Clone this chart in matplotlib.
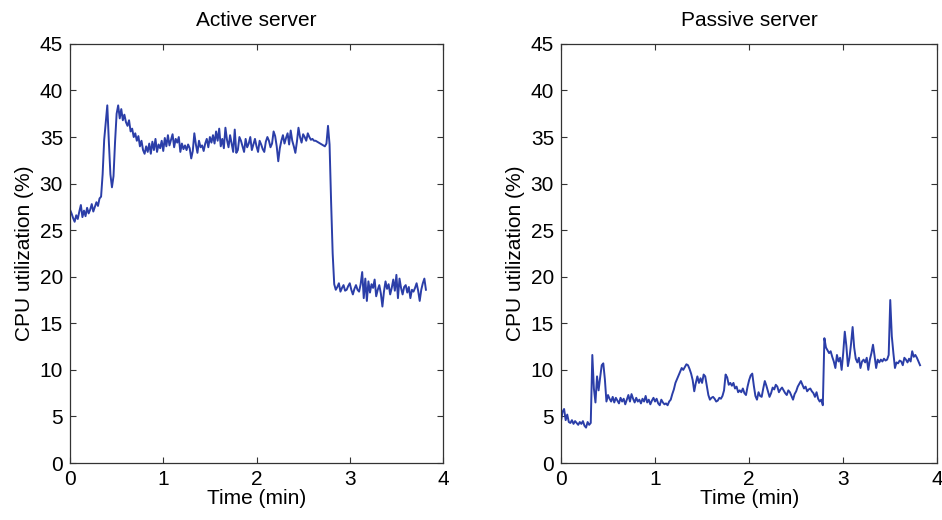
import numpy as np
import matplotlib.pyplot as plt

plt.rcParams['font.family'] = ['Liberation Sans', 'DejaVu Sans']

# CPU load samples, one per second
active_cpu = [
    27.2, 26.8, 26.3, 25.9, 26.6, 26.2, 27.0, 27.7, 26.4, 27.1,
    26.5, 27.4, 26.8, 27.2, 27.8, 27.0, 27.5, 28.0, 27.6, 28.4,
    28.6, 31.0, 34.7, 36.5, 38.4, 34.5, 31.0, 29.6, 30.8, 34.5,
    37.5, 38.4, 37.0, 38.0, 36.8, 37.4, 36.6, 36.2, 36.8, 35.6,
    35.9, 35.0, 35.4, 34.6, 35.1, 34.0, 34.6, 33.6, 33.2, 34.0,
    33.4, 34.3, 33.2, 34.5, 33.6, 34.8, 33.4, 34.2, 33.8, 34.6,
    33.5, 34.9, 34.0, 35.2, 34.1, 34.7, 35.3, 33.9, 34.8, 34.4,
    35.0, 33.4, 34.3, 33.7, 34.1, 33.6, 34.2, 33.8, 32.7, 33.5,
    35.4, 34.2, 33.3, 34.6, 33.9, 34.1, 33.5, 34.3, 34.8, 33.9,
    35.0, 34.4, 35.2, 34.3, 35.6, 34.6, 35.9, 34.0, 34.8, 33.8,
    36.0, 34.7, 33.9, 35.2, 34.3, 33.4, 35.8, 33.3, 33.6, 35.0,
    34.6, 34.0, 33.4, 34.8, 33.9, 34.3, 35.0, 33.6, 34.2, 34.8,
    34.0, 33.4, 34.6, 34.2, 33.7, 33.4, 34.5, 35.0, 34.6, 33.9,
    34.3, 35.6, 35.1, 34.0, 32.4, 33.8, 34.6, 35.2, 34.3, 34.9,
    35.4, 34.2, 35.7, 34.6, 34.0, 33.3, 34.5, 36.0, 35.0, 34.4,
    35.3, 35.0, 34.6, 35.4, 35.0, 34.7, 34.8, 34.6, 34.6, 34.5,
    34.4, 34.3, 34.2, 34.1, 34.0, 34.3, 36.2, 34.2, 28.0, 22.5,
    19.2, 18.6, 18.9, 19.3, 18.4, 18.8, 19.1, 18.5, 18.6, 19.0,
    19.3, 18.6, 18.1, 18.7, 19.1, 18.6, 18.4, 19.2, 20.5, 17.7,
    19.8, 17.4, 19.5, 18.3, 19.2, 18.8, 19.7, 17.9, 18.6, 19.1,
    18.2, 16.8, 18.4, 19.5, 18.7, 19.2, 18.1, 18.8, 19.7, 18.5,
    20.2, 17.7, 19.8, 18.8, 18.1, 18.9, 19.1, 18.3, 18.9, 17.7,
    18.6, 18.4, 18.8, 19.3, 18.5, 17.4, 18.6, 19.3, 19.8, 18.6,
]

passive_cpu = [
    4.5, 5.5, 5.8, 4.6, 5.2, 4.4, 4.3, 4.6, 4.2, 4.5,
    4.3, 4.1, 4.4, 4.2, 4.5, 4.0, 3.8, 4.4, 4.1, 4.3,
    11.6, 8.0, 6.5, 9.3, 7.8, 9.2, 10.5, 10.7, 9.0, 6.6,
    7.3, 6.9, 6.6, 7.1, 6.5, 7.0, 6.7, 6.4, 7.0, 6.6,
    6.9, 6.3, 6.8, 7.3, 6.6, 7.4, 6.9, 6.5, 7.0, 6.6,
    6.8, 6.4, 6.9, 6.6, 7.2, 6.5, 6.8, 6.3, 6.7, 7.0,
    6.6, 6.9, 6.4, 6.2, 6.8, 6.5, 6.3, 6.4, 6.2, 6.6,
    6.8, 7.4, 7.9, 8.6, 9.0, 9.4, 9.8, 10.2, 10.0, 10.3,
    10.6, 10.5, 10.1, 9.6, 8.9, 7.7, 8.6, 9.3, 8.6, 9.1,
    8.6, 9.5, 9.3, 8.3, 7.3, 6.8, 7.0, 7.1, 6.9, 6.6,
    6.7, 7.0, 6.9, 7.2, 7.8, 9.5, 9.2, 8.4, 8.6, 8.3,
    8.6, 8.0, 8.2, 7.6, 7.8, 7.6, 8.0, 7.5, 7.3, 8.2,
    8.9, 9.4, 9.6, 8.3, 7.2, 6.8, 7.6, 7.2, 7.1, 8.0,
    8.8, 8.3, 7.7, 7.1, 7.5, 8.1, 7.9, 8.4, 8.2, 7.6,
    7.9, 8.1, 7.8, 7.5, 7.3, 7.8, 7.6, 7.2, 6.8, 7.4,
    7.7, 8.2, 8.5, 8.8, 8.4, 8.0, 8.2, 7.7, 7.9, 8.0,
    7.7, 7.5, 7.1, 7.6, 6.9, 6.6, 6.8, 6.2, 13.4, 12.4,
    12.1, 11.8, 12.0, 11.4, 10.9, 10.2, 11.6, 10.9, 11.3, 10.0,
    11.8, 14.1, 12.6, 10.4, 11.3, 12.8, 14.6, 12.4, 11.2, 10.8,
    11.3, 10.2, 10.9, 11.1, 10.8, 11.3, 10.0, 11.1, 11.8, 12.7,
    11.5, 10.2, 11.1, 10.8, 11.1, 10.9, 11.2, 11.0, 11.1, 11.6,
    17.5, 13.6, 11.8, 10.2, 10.8, 10.7, 11.0, 10.9, 10.5, 11.3,
    11.1, 10.8, 11.2, 10.9, 12.0, 11.4, 11.6, 11.3, 10.9, 10.5,
]

titles = ["Active server", "Passive server"]
x_ticks = [0, 1, 2, 3, 4]
y_ticks = list(range(0, 50, 5))

line_color = '#2b3ea8'
fs = 15

fig = plt.figure(figsize=(9.42, 5.2), dpi=100)
ax_l = fig.add_axes([0.0743, 0.1096, 0.396, 0.806])
ax_r = fig.add_axes([0.5955, 0.1096, 0.3995, 0.806])

for ax, series, title in zip([ax_l, ax_r], [active_cpu, passive_cpu], titles):
    minutes = np.arange(len(series)) / 60.0
    ax.plot(minutes, series, color=line_color, linewidth=1.4)
    ax.set_xlim(0, 4)
    ax.set_ylim(0, 45)
    ax.set_xticks(x_ticks)
    ax.set_yticks(y_ticks)
    ax.tick_params(direction='in', length=4, width=0.8, top=True, right=True,
                   labelsize=fs, pad=5, colors='#333333', labelcolor='black')
    for sp in ax.spines.values():
        sp.set_linewidth(0.9)
        sp.set_color('#333333')
    ax.set_title(title, fontsize=fs, pad=13)
    ax.set_xlabel("Time (min)", fontsize=fs, labelpad=0)
    ax.set_ylabel("CPU utilization (%)", fontsize=fs, labelpad=4)

fig.savefig("out.png", dpi=100)
